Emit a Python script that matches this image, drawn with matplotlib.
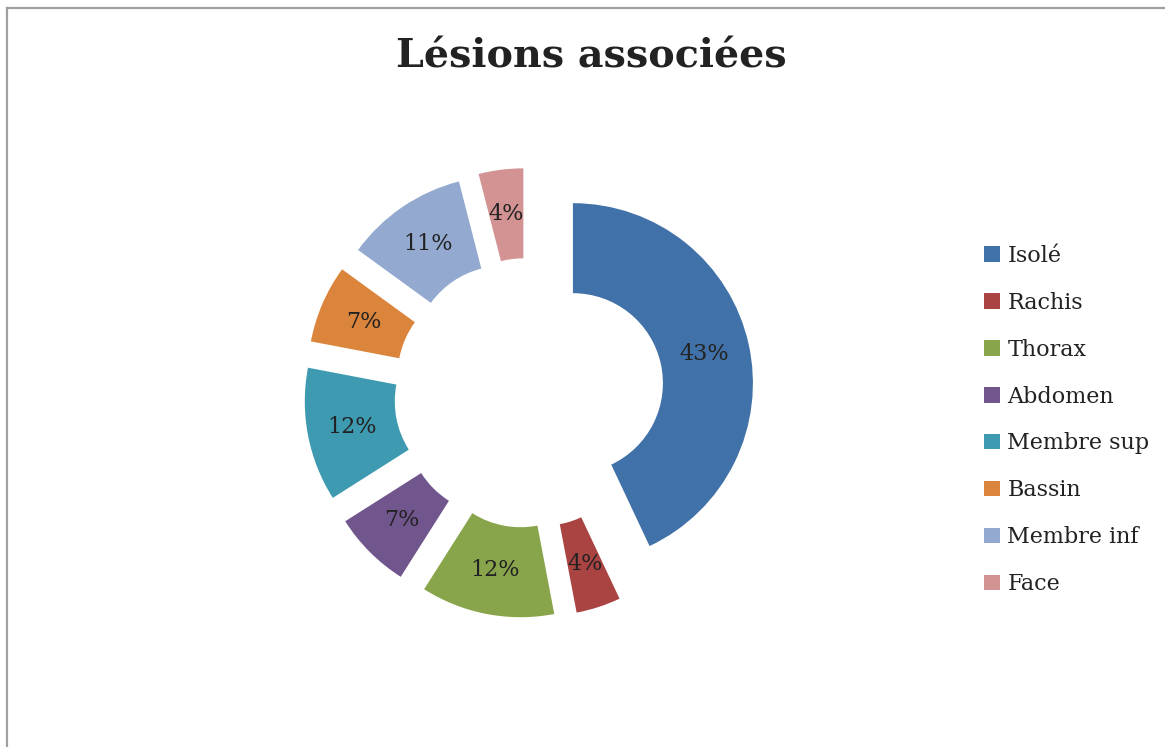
import matplotlib
matplotlib.use("Agg")
import matplotlib.pyplot as plt
from matplotlib.lines import Line2D

labels = ["Isolé", "Rachis", "Thorax", "Abdomen", "Membre sup", "Bassin", "Membre inf", "Face"]
values = [43, 4, 12, 7, 12, 7, 11, 4]
colors = ["#4071A8", "#A94442", "#89A54B", "#71568E", "#3E9AB0", "#DB843C", "#93A9D0", "#D29392"]

W, H = 1165, 747
fig = plt.figure(figsize=(W / 100, H / 100), dpi=100)
plt.rcParams["font.family"] = "DejaVu Serif"

# donut: centre (529, 393) px, outer radius 180 px
cx, cy, R = 529, 393, 180
half = 260
ax = fig.add_axes([(cx - half) / W, (H - cy - half) / H, 2 * half / W, 2 * half / H])
wedges, texts, autotexts = ax.pie(values, colors=colors, startangle=90, counterclock=False,
                                  explode=[0.25] * len(values), radius=1,
                                  wedgeprops=dict(width=0.5, linewidth=0),
                                  autopct="%1.0f%%", pctdistance=0.75,
                                  textprops=dict(fontsize=16, color="#222222"))
lim = half / R
ax.set_xlim(-lim, lim); ax.set_ylim(-lim, lim); ax.set_aspect("equal")
ax.axis("off")

fig.text(591 / W, 1 - 57 / H, "Lésions associées", ha="center", va="center",
         fontsize=28.5, fontweight="bold", color="#222222")

fig.legend(wedges, labels, loc="center left", bbox_to_anchor=(984 / W, 1 - 420 / H),
           frameon=False, fontsize=16, handlelength=0.7, handleheight=0.7,
           handletextpad=0.35, labelspacing=1.12, borderpad=0, borderaxespad=0,
           labelcolor="#222222")

# outer chart frame (left and top edges visible)
fig.add_artist(Line2D([7 / W, 7 / W], [0, 1 - 8 / H], color="#A0A0A0", lw=1.6))
fig.add_artist(Line2D([7 / W, 1], [1 - 8 / H, 1 - 8 / H], color="#A0A0A0", lw=1.6))

fig.savefig("out.png", dpi=100)
